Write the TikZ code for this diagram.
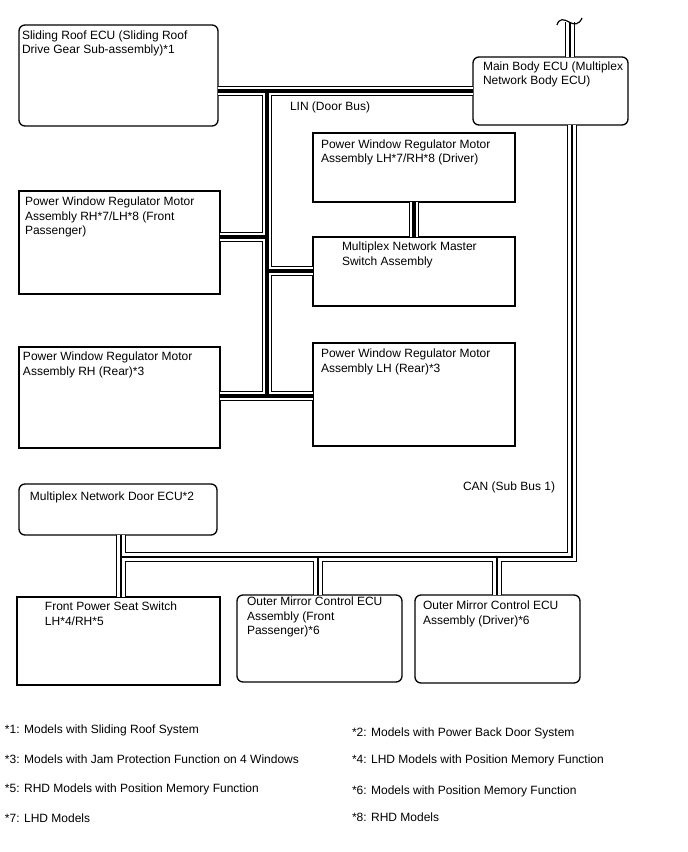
\documentclass[tikz,border=0pt]{standalone}
\usepackage{fontspec}
\setmainfont{Liberation Sans}
\begin{document}
\begin{tikzpicture}[x=1pt,y=-1pt,
  box/.style={draw, line width=1.3pt, rectangle, outer sep=0pt, inner sep=0pt, anchor=north west},
  rbox/.style={box, rounded corners=6pt},
  txt/.style={anchor=north west, inner sep=0pt, outer sep=0pt, align=left, font=\fontsize{12}{14.3}\selectfont},
  note/.style={anchor=base west, inner sep=0pt, outer sep=0pt, font=\fontsize{12}{14}\selectfont},
  line join=miter]
\useasboundingbox (0,0) rectangle (688,852);
% boxes
\node[rbox, minimum width=199pt, minimum height=101pt] (sr) at (19,25) {};
\node[rbox, minimum width=155pt, minimum height=68pt] (mb) at (473,57) {};
\node[box, minimum width=202pt, minimum height=69pt] (pwd) at (313,133) {};
\node[box, minimum width=201pt, minimum height=103pt] (pwf) at (19,191) {};
\node[box, minimum width=202pt, minimum height=69pt] (ms) at (313,237) {};
\node[box, minimum width=201pt, minimum height=101pt] (pwrr) at (19,347) {};
\node[box, minimum width=202pt, minimum height=103pt] (pwlr) at (313,343) {};
\node[rbox, minimum width=198pt, minimum height=51pt] (door) at (19,484) {};
\node[box, minimum width=203pt, minimum height=88pt] (seat) at (17,597) {};
\node[rbox, minimum width=165pt, minimum height=87pt] (mfp) at (237,595) {};
\node[rbox, minimum width=165pt, minimum height=88pt] (mdr) at (415,595) {};
% texts
\node[txt] (tsr) at (22,31) {Sliding Roof ECU (Sliding Roof\\Drive Gear Sub-assembly)*1};
\node[txt] (tmb) at (483,62) {Main Body ECU (Multiplex\\Network Body ECU)};
\node[txt] (tpwd) at (321,140) {Power Window Regulator Motor\\Assembly LH*7/RH*8 (Driver)};
\node[txt] (tpwf) at (25,197) {Power Window Regulator Motor\\Assembly RH*7/LH*8 (Front\\Passenger)};
\node[txt] (tms) at (342,242) {Multiplex Network Master\\Switch Assembly};
\node[txt] (tpwrr) at (23,352) {Power Window Regulator Motor\\Assembly RH (Rear)*3};
\node[txt] (tpwlr) at (321,349) {Power Window Regulator Motor\\Assembly LH (Rear)*3};
\node[txt] (tdoor) at (30,492) {Multiplex Network Door ECU*2};
\node[txt] (tseat) at (45,602) {Front Power Seat Switch\\LH*4/RH*5};
\node[txt] (tmfp) at (247,597) {Outer Mirror Control ECU\\Assembly (Front\\Passenger)*6};
\node[txt] (tmdr) at (423,601) {Outer Mirror Control ECU\\Assembly (Driver)*6};
\node[txt] (lin) at (290,102) {LIN (Door Bus)};
\node[txt] (can) at (463,482) {CAN (Sub Bus 1)};
% bus coordinates
\coordinate (linT) at (267,91);
\coordinate (linB) at (267,396);
\coordinate (canTop) at (570,22);
\coordinate (canC) at (572,557);
\coordinate (canL) at (121,557);
% LIN bus
\foreach \w/\c in {10/black, 7.2/white, 3.6/black} {
  \draw[line width=\w pt, draw=\c]
    (sr.east |- linT) -- (mb.west |- linT)
    (linT) -- (linB)
    (pwf.east |- 0,237) -- (linT |- 0,237)
    (linT |- 0,271) -- (ms.west |- 0,271)
    (pwrr.east |- linB) -- (pwlr.west |- linB)
    (pwd.south -| 414,0) -- (ms.north -| 414,0);
}
% CAN bus
\foreach \w/\c in {10/black, 7.2/white, 1.6/black} {
  \draw[line width=\w pt, draw=\c]
    (canTop) -- (mb.north -| canTop)
    (mb.south -| canC) -- (canC) -- (canL)
    (door.south -| canL) -- (seat.north -| canL)
    (canL -| 318,0) -- (mfp.north -| 318,0)
    (canL -| 497,0) -- (mdr.north -| 497,0);
}
% break mark on CAN line
\draw[line width=1.2pt] (557,25) .. controls (559,18) and (564,19) .. (569,22) .. controls (574,25) and (579,25) .. (582,18);
% notes
\node[note] (n1) at (5,733) {*1: Models with Sliding Roof System};
\node[note] (n2) at (352,736) {*2: Models with Power Back Door System};
\node[note] (n3) at (5,763) {*3: Models with Jam Protection Function on 4 Windows};
\node[note] (n4) at (352,763) {*4: LHD Models with Position Memory Function};
\node[note] (n5) at (5,792) {*5: RHD Models with Position Memory Function};
\node[note] (n6) at (352,794) {*6: Models with Position Memory Function};
\node[note] (n7) at (5,822) {*7: LHD Models};
\node[note] (n8) at (352,821) {*8: RHD Models};
\end{tikzpicture}
\end{document}
